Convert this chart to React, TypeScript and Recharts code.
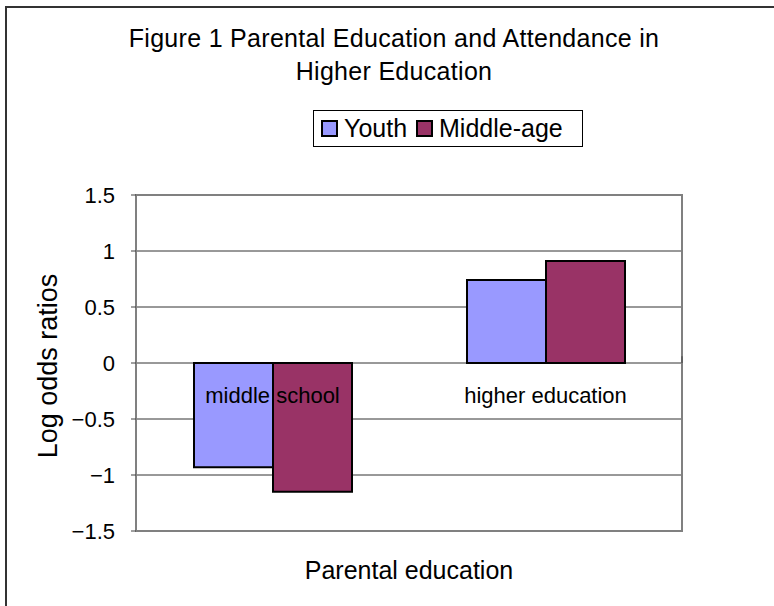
import { BarChart, Bar, XAxis, YAxis, CartesianGrid, ReferenceArea, ReferenceLine } from 'recharts';

const categories = ['middle school', 'higher education'];
const youth = [-0.93, 0.74];
const middleAge = [-1.15, 0.91];
const yTicks = [-1.5, -1, -0.5, 0, 0.5, 1, 1.5];
const boundaries = [0, 1, 2];

const seriesInfo = [
  { key: 'youth', name: 'Youth', color: '#9999FF' },
  { key: 'middleAge', name: 'Middle-age', color: '#993366' },
];

const data = categories.map((cat, i) => ({ cat, youth: youth[i], middleAge: middleAge[i] }));

const FONT = '"Liberation Sans", Arial, sans-serif';

const fmt = (v: number) => (v < 0 ? `\u2212${Math.abs(v)}` : `${v}`);

// category names sit just under the zero line, like Excel's crossing axis
const CategoryTick = (props: any) => {
  const { x, y, payload } = props;
  return (
    <text x={x} y={y - 136} textAnchor="middle" dominantBaseline="central" fontSize={22} fontFamily={FONT} fill="#000">
      {payload.value}
    </text>
  );
};

const ValueTick = (props: any) => {
  const { x, y, payload } = props;
  return (
    <text x={x} y={y} textAnchor="end" dominantBaseline="central" fontSize={22} fontFamily={FONT} fill="#000">
      {fmt(payload.value)}
    </text>
  );
};

const LegendBox = () => (
  <div
    style={{
      position: 'absolute', left: 313, top: 110, width: 268, height: 35,
      border: '1px solid #000', display: 'flex', alignItems: 'center',
      fontFamily: FONT, fontSize: 25, boxSizing: 'content-box',
    }}
  >
    {seriesInfo.map((s, i) => (
      <div key={s.key} style={{ display: 'flex', alignItems: 'center', marginLeft: i === 0 ? 7 : 9 }}>
        <span style={{ width: 13, height: 13, background: s.color, border: '2px solid #000', display: 'inline-block', marginRight: 6 }} />
        <span>{s.name}</span>
      </div>
    ))}
  </div>
);

export default function App() {
  return (
    <div style={{ position: 'absolute', left: 0, top: 0, width: 774, height: 606, background: '#fff', overflow: 'hidden' }}>
      <div style={{ position: 'absolute', left: 5, top: 6, width: 800, height: 620, borderTop: '2px solid #333', borderLeft: '2px solid #333' }} />
      <div
        style={{
          position: 'absolute', left: 44, top: 22, width: 700, textAlign: 'center',
          fontFamily: FONT, fontSize: 25, lineHeight: '33px', letterSpacing: '0.3px', color: '#000',
        }}
      >
        Figure 1 Parental Education and Attendance in
        <br />
        Higher Education
      </div>
      <LegendBox />
      <BarChart
        width={774}
        height={606}
        data={data}
        margin={{ top: 195, right: 92, bottom: 74, left: 0 }}
        barCategoryGap={58}
        barGap={0}
      >
        <CartesianGrid horizontal vertical={false} stroke="#333" strokeWidth={1} />
        <XAxis dataKey="cat" height={1} tickLine={false} axisLine={false} tickSize={0} tickMargin={0} tick={<CategoryTick />} interval={0} />
        <XAxis xAxisId="n" type="number" domain={[0, 2]} hide />
        <YAxis
          domain={[-1.5, 1.5]}
          ticks={yTicks}
          width={136}
          tick={<ValueTick />}
          tickLine={{ stroke: '#404040' }}
          tickSize={5}
          tickMargin={16}
          axisLine={{ stroke: '#808080', strokeWidth: 2 }}
          interval={0}
        />
        <ReferenceArea y1={-1.5} y2={1.5} fill="none" stroke="#808080" strokeWidth={2} ifOverflow="visible" />
        {boundaries.map((b) => (
          <ReferenceLine
            key={b}
            xAxisId="n"
            segment={[{ x: b, y: 0 }, { x: b, y: 0.06 }]}
            stroke="#404040"
            ifOverflow="visible"
          />
        ))}
        {seriesInfo.map((s) => (
          <Bar key={s.key} dataKey={s.key} name={s.name} fill={s.color} stroke="#000" strokeWidth={2} isAnimationActive={false} />
        ))}
      </BarChart>
      <div
        style={{
          position: 'absolute', left: 209, top: 555, width: 400, textAlign: 'center',
          fontFamily: FONT, fontSize: 25, lineHeight: '30px', color: '#000',
        }}
      >
        Parental education
      </div>
      <div
        style={{
          position: 'absolute', left: 48, top: 366, width: 240, height: 30, marginLeft: -120, marginTop: -15,
          transform: 'rotate(-90deg)', textAlign: 'center',
          fontFamily: FONT, fontSize: 27, lineHeight: '30px', color: '#000',
        }}
      >
        Log odds ratios
      </div>
    </div>
  );
}
